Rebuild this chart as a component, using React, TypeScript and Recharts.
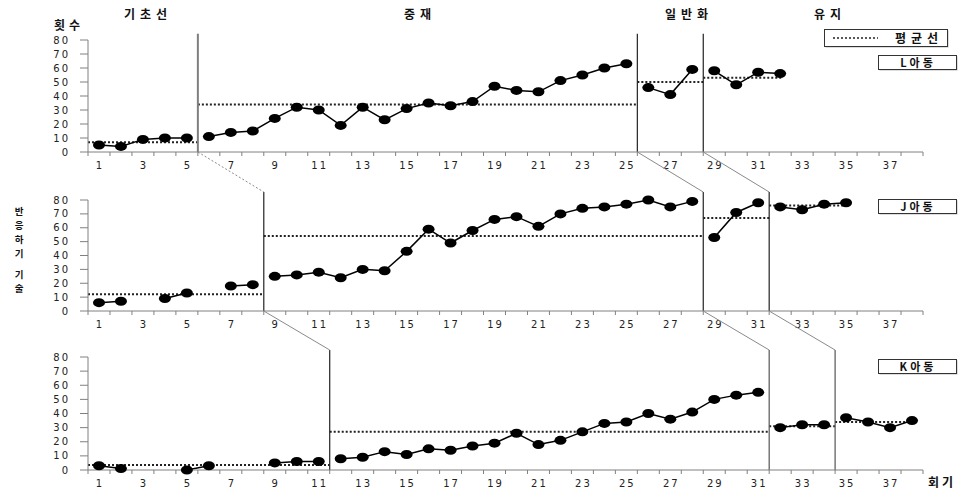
import React from "react";
import { LineChart, Line, XAxis, YAxis, ReferenceLine } from "recharts";

// sessions 1..38
const sessions = [
  1, 2, 3, 4, 5, 6, 7, 8, 9, 10, 11, 12, 13, 14, 15, 16, 17, 18, 19,
  20, 21, 22, 23, 24, 25, 26, 27, 28, 29, 30, 31, 32, 33, 34, 35, 36, 37, 38,
];
const yTicks = [0, 10, 20, 30, 40, 50, 60, 70, 80];

// L아동
const lBase = [5, 4, 9, 10, 10];
const lInter = [11, 14, 15, 24, 32, 30, 19, 32, 23, 31, 35, 33, 36, 47, 44, 43, 51, 55, 60, 63];
const lGen = [46, 41, 59];
const lMaint = [58, 48, 57, 56];
const lMeans = [7, 34, 50, 53];

// J아동
const jBase = [6, 7, null, 9, 13, null, 18, 19];
const jInter = [25, 26, 28, 24, 30, 29, 43, 59, 49, 58, 66, 68, 61, 70, 74, 75, 77, 80, 75, 79];
const jGen = [53, 71, 78];
const jMaint = [75, 73, 77, 78];
const jMeans = [12, 54, 67, 76];

// K아동
const kBase = [3, 1, null, null, 0, 3, null, null, 5, 6, 6];
const kInter = [8, 9, 13, 11, 15, 14, 17, 19, 26, 18, 21, 27, 33, 34, 40, 36, 41, 50, 53, 55];
const kGen = [30, 32, 32];
const kMaint = [37, 34, 30, 35];
const kMeans = [3.5, 27, 31, 34];

const W = 960;
const PLOT_LEFT = 88;
const PLOT_RIGHT = 923;
const BAND = (PLOT_RIGHT - PLOT_LEFT) / sessions.length;
const xb = (k: number) => PLOT_LEFT + k * BAND;

const KR = "'Noto Sans CJK KR', sans-serif";
const NUM = "'DejaVu Sans', sans-serif";
const phaseKeys = ["p0", "p1", "p2", "p3"];

type Series = (number | null)[];

function buildRows(phases: Series[]) {
  const starts: number[] = [];
  let acc = 1;
  phases.forEach((p) => {
    starts.push(acc);
    acc += p.length;
  });
  return sessions.map((s) => {
    const row: any = { s };
    phases.forEach((p, i) => {
      const idx = s - starts[i];
      row[phaseKeys[i]] = idx >= 0 && idx < p.length ? p[idx] : null;
    });
    return row;
  });
}

const boundaryTicks = [0.5, ...sessions.map((s) => s + 0.5)];

const SessionTick = (props: any) => {
  const { x, y, payload } = props;
  const s = payload.value + 0.5;
  if (s % 2 !== 1 || s > 37) return <g />;
  return (
    <text
      x={x + BAND / 2 + 1}
      y={y}
      dy="0.71em"
      textAnchor="middle"
      fontFamily={NUM}
      fontSize={10}
      letterSpacing={2}
      fill="#222"
    >
      {s}
    </text>
  );
};

const renderDot = (props: any) => {
  const { cx, cy, index, value } = props;
  if (value == null || cx == null || cy == null) return <g key={`d${index}`} />;
  return <ellipse key={`d${index}`} cx={cx} cy={cy} rx={6} ry={4.5} fill="#000" />;
};

interface PanelProps {
  top: number;
  height: number;
  marginTop: number;
  xAxisHeight: number;
  phases: Series[];
  means: number[];
  phaseTop: number;
  lineColor: string;
  firstLineColor: string;
}

function Panel({ top, height, marginTop, xAxisHeight, phases, means, phaseTop, lineColor, firstLineColor }: PanelProps) {
  const rows = buildRows(phases);
  const bounds: number[] = [];
  let acc = 0;
  phases.forEach((p) => {
    acc += p.length;
    bounds.push(acc + 0.5);
  });
  const lastSession = acc;
  return (
    <div style={{ position: "absolute", left: 0, top, width: W, height }}>
      <LineChart
        width={W}
        height={height}
        data={rows}
        margin={{ top: marginTop, right: W - PLOT_RIGHT, left: 0, bottom: 0 }}
      >
        <XAxis
          dataKey="s"
          type="number"
          domain={[0.5, 38.5]}
          ticks={boundaryTicks}
          interval={0}
          tick={SessionTick}
          tickSize={4}
          tickMargin={6}
          height={xAxisHeight}
          stroke="#808080"
        />
        <YAxis
          type="number"
          domain={[0, 80]}
          ticks={yTicks}
          interval={0}
          width={PLOT_LEFT}
          tickSize={8}
          tickMargin={10}
          stroke="#808080"
          tick={{ fontFamily: NUM, fontSize: 10, fill: "#222", letterSpacing: 2 }}
        />
        {means.map((m, i) => {
          const start = i === 0 ? 0.5 : bounds[i - 1];
          const end = i === means.length - 1 ? lastSession + 0.1 : bounds[i];
          return (
            <ReferenceLine
              key={`m${i}`}
              segment={[
                { x: start, y: m },
                { x: end, y: m },
              ]}
              stroke="#222"
              strokeWidth={2}
              strokeDasharray="2 2"
              ifOverflow="visible"
            />
          );
        })}
        {bounds.slice(0, 3).map((b, i) => (
          <ReferenceLine
            key={`b${i}`}
            segment={[
              { x: b, y: 0 },
              { x: b, y: phaseTop },
            ]}
            stroke={i === 0 ? firstLineColor : lineColor}
            strokeWidth={i === 0 && firstLineColor === "#7f7f7f" ? 2 : 1.2}
            ifOverflow="visible"
          />
        ))}
        {phases.map((_, i) => (
          <Line
            key={phaseKeys[i]}
            dataKey={phaseKeys[i]}
            stroke="#000"
            strokeWidth={1.5}
            dot={renderDot}
            activeDot={false}
            connectNulls={false}
            isAnimationActive={false}
          />
        ))}
      </LineChart>
    </div>
  );
}

const labelStyle = { fontFamily: KR, fontWeight: 700, fill: "#111" } as const;

export default function App() {
  const yLabel = [
    { c: "반", y: 211 },
    { c: "응", y: 225 },
    { c: "하", y: 239 },
    { c: "기", y: 253 },
    { c: "기", y: 274 },
    { c: "술", y: 288 },
  ];
  const gray = "#8a8a8a";
  return (
    <div style={{ position: "absolute", left: 0, top: 0, width: W, height: 493, background: "#fff" }}>
      <Panel
        top={0}
        height={180}
        marginTop={40}
        xAxisHeight={28}
        phases={[lBase, lInter, lGen, lMaint]}
        means={lMeans}
        phaseTop={84.5}
        lineColor="#222"
        firstLineColor="#7f7f7f"
      />
      <Panel
        top={180}
        height={159}
        marginTop={20}
        xAxisHeight={28}
        phases={[jBase, jInter, jGen, jMaint]}
        means={jMeans}
        phaseTop={85.8}
        lineColor="#222"
        firstLineColor="#222"
      />
      <Panel
        top={340}
        height={153}
        marginTop={17}
        xAxisHeight={23}
        phases={[kBase, kInter, kGen, kMaint]}
        means={kMeans}
        phaseTop={85}
        lineColor="#555"
        firstLineColor="#222"
      />
      <svg
        width={W}
        height={493}
        style={{ position: "absolute", left: 0, top: 0, pointerEvents: "none" }}
      >
        {/* phase titles */}
        <text x={148} y={19} textAnchor="middle" fontSize={12} letterSpacing={5} {...labelStyle}>기초선</text>
        <text x={420} y={19} textAnchor="middle" fontSize={12} letterSpacing={5} {...labelStyle}>중재</text>
        <text x={689} y={19} textAnchor="middle" fontSize={12} letterSpacing={5} {...labelStyle}>일반화</text>
        <text x={830} y={19} textAnchor="middle" fontSize={12} letterSpacing={5} {...labelStyle}>유지</text>
        <text x={69} y={30} textAnchor="middle" fontSize={12} letterSpacing={4} {...labelStyle}>횟수</text>
        {yLabel.map((d, i) => (
          <text key={i} x={19} y={d.y + 3.5} textAnchor="middle" fontSize={9.5} {...labelStyle}>
            {d.c}
          </text>
        ))}
        <text x={942} y={487} textAnchor="middle" fontSize={12} letterSpacing={3} {...labelStyle}>회기</text>

        {/* legend */}
        <rect x={825.5} y={30.5} width={123} height={17} fill="#bbb" />
        <rect x={824.5} y={29.5} width={123} height={17} fill="#fff" stroke="#333" />
        <line x1={833} x2={878} y1={38} y2={38} stroke="#222" strokeWidth={1.5} strokeDasharray="2 2" />
        <text x={919} y={42.5} textAnchor="middle" fontSize={12} letterSpacing={5} {...labelStyle}>평균선</text>

        {[
          { t: "L아동", y: 55.5 },
          { t: "J아동", y: 199.5 },
          { t: "K아동", y: 359.5 },
        ].map((b) => (
          <g key={b.t}>
            <rect x={879.5} y={b.y + 1} width={78} height={14} fill="#bbb" />
            <rect x={878.5} y={b.y} width={78} height={14} fill="#fff" stroke="#333" />
            <text x={918} y={b.y + 11} textAnchor="middle" fontSize={11} letterSpacing={3} {...labelStyle}>
              {b.t}
            </text>
          </g>
        ))}

        {/* connectors between panels */}
        <line x1={xb(5)} y1={152} x2={xb(8)} y2={192} stroke={gray} strokeDasharray="2 2" />
        <line x1={xb(25)} y1={152} x2={xb(28)} y2={192} stroke={gray} />
        <line x1={xb(28)} y1={152} x2={xb(31)} y2={192} stroke={gray} />
        <line x1={xb(8)} y1={311} x2={xb(11)} y2={350} stroke={gray} />
        <line x1={xb(28)} y1={311} x2={xb(31)} y2={350} stroke={gray} />
        <line x1={xb(31)} y1={311} x2={xb(34)} y2={350} stroke={gray} />
      </svg>
    </div>
  );
}
